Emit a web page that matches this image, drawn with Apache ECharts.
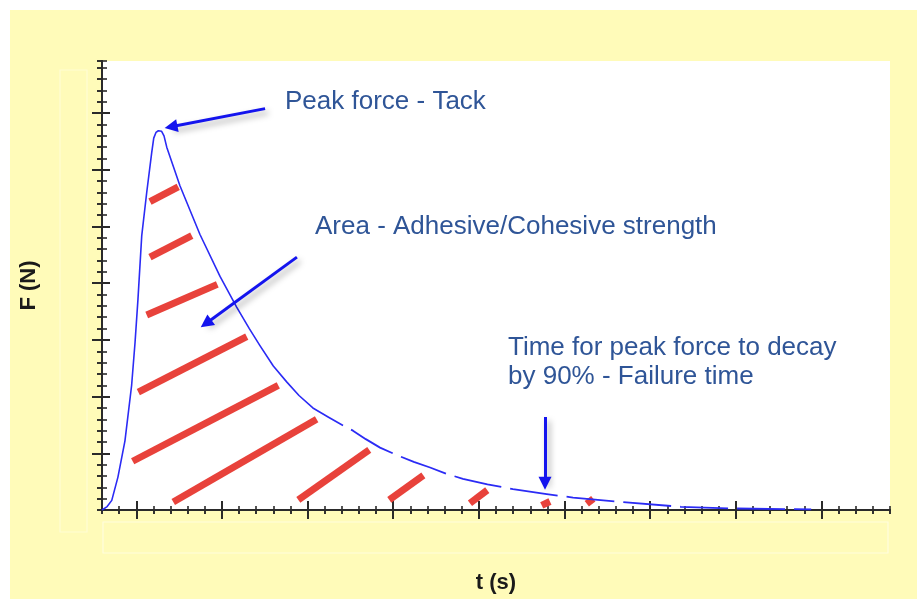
<!DOCTYPE html>
<html><head><meta charset="utf-8">
<script src="https://cdn.jsdelivr.net/npm/echarts@6/dist/echarts.min.js"></script>
<style>html,body{margin:0;padding:0;background:#fff}#c{width:917px;height:599px}</style>
</head><body><div id="c"></div>
<script>
// ---- data (t, F) in axis units ----
const X_MIN = 0, X_MAX = 46, Y_MIN = 0, Y_MAX = 39.6;
const xMajorTicks = [2, 7, 12, 17, 22, 27, 32, 37, 42];
const yMajorTicks = [5, 10, 15, 20, 25, 30, 35];

const curveSolid = [[0,0],[0.3,0.3],[0.57,0.85],[0.93,2.9],[1.34,6.1],[1.73,11.0],[1.93,14.8],[2.10,18.6],[2.32,24.2],[2.61,28.0],[2.90,31.5],[3.02,32.8],[3.15,33.3],[3.29,33.45],[3.48,33.4],[3.62,33.0],[3.78,32.0],[4.55,28.6],[5.72,24.3],[6.89,20.6],[7.86,17.9],[8.6,16.0],[9.22,14.5],[10.0,12.7],[10.78,11.3],[11.5,10.1],[12.31,9.0],[13.2,8.2],[14.07,7.45]];
const curveTail = [[14.07,7.45],[14.65,7.0],[15.4,6.25],[16.23,5.5],[17.2,4.85],[18.2,4.25],[19.15,3.75],[20.1,3.2],[21.07,2.75],[22.5,2.25],[23.99,1.85],[25.96,1.4],[27.5,1.1],[30.4,0.7],[33.8,0.28],[36.6,0.14],[41.4,0.06]];

const hatchSegments = [
  [[2.80,27.2],[4.45,28.5]],
  [[2.80,22.3],[5.24,24.2]],
  [[2.61,17.2],[6.73,19.9]],
  [[2.12,10.4],[8.45,15.3]],
  [[1.79,4.3],[10.29,11.0]],
  [[4.16,0.7],[12.53,8.0]],
  [[11.46,0.9],[15.6,5.3]],
  [[16.77,0.9],[18.76,3.05]],
  [[21.48,0.6],[22.49,1.75]],
  [[25.67,0.4],[26.15,0.75]],
  [[28.30,0.55],[28.68,1.0]]
];
const arrowSegments = [
  [[9.52,35.4],[4.03,33.8]],
  [[11.38,22.3],[6.07,16.45]],
  [[25.86,8.2],[25.86,2.35]]
];
const annotations = [
  {text: 'Peak force - Tack', x: 285, y: 102},
  {text: 'Area - Adhesive/Cohesive strength', x: 315, y: 227},
  {text: 'Time for peak force to decay', x: 508, y: 348},
  {text: 'by 90% - Failure time', x: 508, y: 377}
];

// ---- chart ----
const AX = '#2a2a2a';
function xAx(o) {
  return Object.assign({type:'value', min:X_MIN, max:X_MAX, interval:1,
    axisLine:{show:false}, axisLabel:{show:false}, splitLine:{show:false},
    axisTick:{show:false}}, o);
}
function yAx(o) {
  return Object.assign({type:'value', min:Y_MIN, max:Y_MAX, interval:1,
    axisLine:{show:false}, axisLabel:{show:false}, splitLine:{show:false},
    axisTick:{show:false}}, o);
}
const chart = echarts.init(document.getElementById('c'), null, {renderer:'canvas'});
chart.setOption({
  backgroundColor: '#ffffff',
  animation: false,
  grid: {left:102, right:27, top:61, bottom:86, show:true, backgroundColor:'#ffffff', borderWidth:0},
  xAxis: [
    xAx({position:'bottom', axisLine:{show:true, lineStyle:{color:AX, width:2}},
      name:'t (s)', nameLocation:'middle', nameGap:62,
      nameTextStyle:{fontFamily:'Liberation Sans, Arial, sans-serif', fontSize:22, fontWeight:'bold', color:'#1a1a1a'}}),
    xAx({position:'bottom', offset:-4, axisTick:{show:true, length:8, lineStyle:{color:AX, width:1.6}}}),
    xAx({position:'bottom', offset:-9, axisTick:{show:true, length:18, customValues:xMajorTicks, lineStyle:{color:AX, width:2}}}),
    xAx({position:'top', axisLine:{show:true, lineStyle:{color:AX, width:2}}, axisTick:{show:true, inside:true, length:4, lineStyle:{color:AX, width:1.6}}}),
    xAx({position:'top', axisTick:{show:true, inside:true, length:8, customValues:xMajorTicks, lineStyle:{color:AX, width:2}}})
  ],
  yAxis: [
    yAx({position:'left', axisLine:{show:true, lineStyle:{color:AX, width:2}},
      name:'F (N)', nameLocation:'middle', nameGap:62, nameRotate:90,
      nameTextStyle:{fontFamily:'Liberation Sans, Arial, sans-serif', fontSize:22, fontWeight:'bold', color:'#1a1a1a'}}),
    yAx({position:'left', offset:-5, axisTick:{show:true, length:10, lineStyle:{color:AX, width:1.6}}}),
    yAx({position:'left', offset:-8, axisTick:{show:true, length:17, customValues:yMajorTicks, lineStyle:{color:AX, width:2}}}),
    yAx({position:'right', axisLine:{show:true, lineStyle:{color:AX, width:2}}, axisTick:{show:true, inside:true, length:5, lineStyle:{color:AX, width:1.6}}}),
    yAx({position:'right', axisTick:{show:true, inside:true, length:10, customValues:yMajorTicks, lineStyle:{color:AX, width:2}}})
  ],
  series: [
    {type:'lines', coordinateSystem:'cartesian2d', xAxisIndex:0, yAxisIndex:0, z:3,
      data: hatchSegments.map(c => ({coords:c})),
      lineStyle:{color:'#e8423b', width:7, opacity:1, cap:'butt'}},
    {type:'line', xAxisIndex:0, yAxisIndex:0, data:curveSolid, showSymbol:false, symbol:'none',
      smooth:false, z:4,
      lineStyle:{color:'#2b2bf5', width:1.6, join:'round'}},
    {type:'line', xAxisIndex:0, yAxisIndex:0, data:curveTail, showSymbol:false, symbol:'none',
      smooth:false, z:4,
      lineStyle:{color:'#2b2bf5', width:1.8, type:[48,9], dashOffset:48, join:'round'}},
    {type:'lines', coordinateSystem:'cartesian2d', xAxisIndex:0, yAxisIndex:0, z:5,
      data: arrowSegments.map(c => ({coords:c})),
      symbol:['none','triangle'], symbolSize:[11,13],
      lineStyle:{color:'#1414ee', width:3, opacity:1, shadowColor:'rgba(0,0,0,0.35)', shadowBlur:6, shadowOffsetX:3, shadowOffsetY:4}}
  ],
  graphic: [
    {type:'rect', z:-100, silent:true, shape:{x:10, y:10, width:907, height:589}, style:{fill:'#fffbb9'}},
    {type:'rect', z:-99, silent:true, shape:{x:103, y:522, width:785, height:31}, style:{fill:'none', stroke:'rgba(255,255,245,0.6)', lineWidth:1.2}},
    {type:'rect', z:-99, silent:true, shape:{x:60, y:70, width:27, height:462}, style:{fill:'none', stroke:'rgba(255,255,245,0.45)', lineWidth:1.2}}
  ].concat(annotations.map(a => ({
    type:'text', z:50, silent:true, x:a.x, y:a.y,
    style:{text:a.text, fill:'#2f5597', font:'26px "Liberation Sans", Arial, sans-serif', textVerticalAlign:'middle', verticalAlign:'middle', align:'left'}
  })))
});
</script></body></html>
